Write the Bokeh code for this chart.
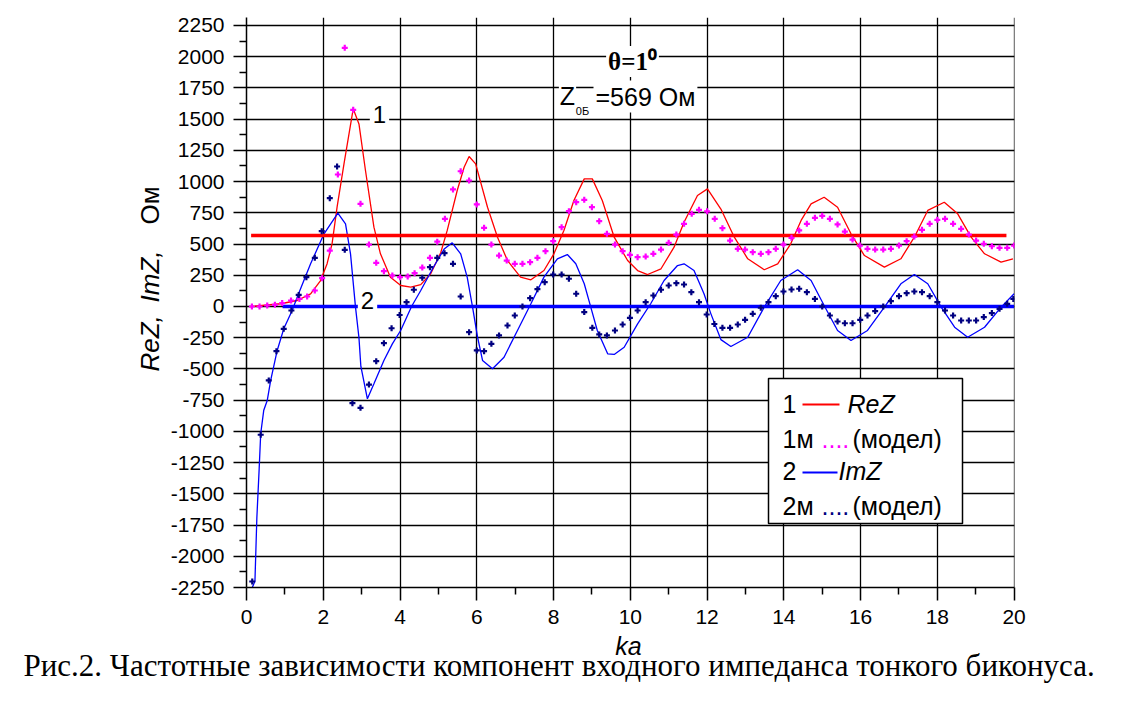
import math
from bokeh.plotting import figure
from bokeh.models import FixedTicker, Label
from bokeh.embed import file_html
from bokeh.resources import INLINE

# ---------------- data ----------------
re_x = [0.12, 0.89, 1.32, 1.67, 1.93, 2.10, 2.23, 2.36, 2.54, 2.78, 2.93, 3.10, 3.32, 3.49, 3.75,
        4.02, 4.28, 4.54, 4.80, 5.06, 5.23, 5.49, 5.67, 5.80, 5.97, 6.28, 6.54, 6.80, 7.14, 7.41,
        7.75, 8.01, 8.27, 8.53, 8.80, 9.01, 9.27, 9.58, 9.93, 10.19, 10.45, 10.80, 11.14, 11.40, 11.75,
        12.01, 12.36, 12.71, 13.06, 13.49, 13.84, 14.18, 14.45, 14.71, 15.05, 15.40, 15.75, 16.10, 16.62, 17.05,
        17.40, 17.75, 18.18, 18.53, 18.88, 19.23, 19.66, 19.97]
re_y = [0, 22, 48, 101, 208, 343, 503, 795, 1142, 1583, 1462, 1089, 635, 422, 235,
        168, 155, 175, 262, 430, 609, 929, 1115, 1201, 1142, 795, 555, 368, 235, 214,
        288, 422, 609, 849, 1022, 1022, 849, 555, 368, 288, 256, 302, 475, 675, 889,
        942, 780, 555, 382, 294, 342, 502, 689, 822, 875, 795, 582, 408, 315, 382,
        555, 769, 835, 742, 555, 422, 355, 382]

im_x = [0.15, 0.22, 0.27, 0.33, 0.37, 0.45, 0.54, 0.63, 0.80, 0.97, 1.19, 1.32, 1.67, 2.02, 2.38,
        2.58, 2.71, 2.84, 2.93, 2.98, 3.15, 3.32, 3.58, 3.80, 4.02, 4.30, 4.54, 4.88, 5.15, 5.36,
        5.58, 5.75, 5.89, 6.02, 6.15, 6.41, 6.71, 7.06, 7.41, 7.75, 8.10, 8.36, 8.58, 8.80, 8.97,
        9.14, 9.41, 9.58, 9.84, 10.19, 10.53, 10.88, 11.23, 11.40, 11.66, 11.92, 12.10, 12.36, 12.62, 13.06,
        13.49, 13.92, 14.36, 14.71, 15.05, 15.40, 15.75, 16.18, 16.62, 17.05, 17.40, 17.75, 18.10, 18.45, 18.79,
        19.23, 19.66, 20.0]
im_y = [-2250, -2200, -1690, -1300, -1019, -830, -753, -592, -352, -179, -32, 74, 342, 582, 747,
        662, 422, -5, -250, -480, -739, -619, -432, -299, -190, 0, 128, 320, 460, 510,
        422, 235, -5, -246, -432, -499, -406, -192, 22, 235, 382, 416, 342, 182, -5,
        -192, -379, -384, -326, -139, 22, 208, 328, 342, 288, 102, -59, -265, -320, -246,
        -5, 208, 294, 208, 8, -192, -272, -192, -5, 182, 256, 182, -5, -166, -246,
        -166, -5, 102]

re_model_x = [0.14, 0.34, 0.54, 0.74, 0.93, 1.16, 1.38, 1.58, 1.78, 1.97, 2.17, 2.38, 2.56, 2.78, 2.97,
              3.19, 3.38, 3.58, 3.80, 4.00, 4.20, 4.38, 4.58, 4.78, 4.97, 5.17, 5.38, 5.58, 5.80, 6.00,
              6.19, 6.38, 6.58, 6.78, 6.99, 7.19, 7.39, 7.58, 7.79, 7.99, 8.21, 8.40, 8.59, 8.80, 9.00,
              9.19, 9.39, 9.60, 9.80, 9.99, 10.19, 10.40, 10.60, 10.80, 11.00, 11.20, 11.40, 11.60, 11.79, 12.00,
              12.20, 12.40, 12.60, 12.80, 12.99, 13.19, 13.40, 13.60, 13.79, 13.99, 14.20, 14.40, 14.60, 14.81, 15.00,
              15.20, 15.40, 15.59, 15.79, 15.98, 16.18, 16.38, 16.59, 16.79, 17.00, 17.20, 17.40, 17.60, 17.80, 18.00,
              18.20, 18.41, 18.62, 18.82, 19.01, 19.21, 19.42, 19.62, 19.82, 20.0]
re_model_y = [0, 0, 8, 13, 27, 48, 61, 80, 128, 227, 448, 1057, 2071, 1575, 822,
              496, 350, 283, 248, 235, 240, 267, 312, 390, 519, 702, 937, 1083, 1009, 817,
              630, 496, 408, 368, 342, 342, 355, 390, 443, 523, 635, 763, 835, 854, 795,
              683, 582, 496, 443, 414, 395, 400, 422, 456, 510, 576, 662, 742, 774, 762,
              702, 627, 528, 462, 456, 435, 422, 435, 462, 496, 550, 609, 662, 710, 726,
              702, 657, 600, 536, 488, 462, 456, 456, 462, 488, 523, 560, 614, 662, 694,
              702, 662, 622, 576, 528, 502, 483, 470, 470, 488]

im_model_x = [0.15, 0.37, 0.58, 0.78, 0.97, 1.17, 1.36, 1.56, 1.78, 1.96, 2.17, 2.36, 2.56, 2.76, 2.97,
              3.19, 3.38, 3.58, 3.78, 3.99, 4.17, 4.36, 4.58, 4.78, 4.97, 5.16, 5.38, 5.58, 5.80, 6.00,
              6.19, 6.38, 6.58, 6.80, 6.99, 7.19, 7.39, 7.58, 7.77, 7.99, 8.21, 8.40, 8.59, 8.80, 9.01,
              9.19, 9.39, 9.60, 9.80, 9.99, 10.19, 10.40, 10.60, 10.80, 11.00, 11.20, 11.40, 11.59, 11.79, 11.99,
              12.19, 12.40, 12.60, 12.80, 12.99, 13.19, 13.40, 13.60, 13.79, 13.99, 14.20, 14.40, 14.60, 14.81, 15.00,
              15.20, 15.40, 15.59, 15.79, 15.99, 16.18, 16.38, 16.59, 16.79, 17.00, 17.20, 17.40, 17.60, 17.80, 18.00,
              18.20, 18.41, 18.62, 18.82, 19.01, 19.21, 19.42, 19.62, 19.82, 19.98]
im_model_y = [-2202, -1027, -592, -358, -179, -32, 93, 235, 390, 603, 867, 1121, 454, -774, -811,
              -625, -438, -294, -174, -68, 35, 134, 230, 315, 390, 427, 342, 80, -206, -352,
              -358, -299, -232, -152, -72, 0, 67, 139, 195, 256, 256, 222, 102, -45, -171,
              -224, -232, -192, -144, -91, -32, 35, 88, 134, 168, 187, 176, 115, 35, -64,
              -140, -171, -171, -144, -107, -59, -10, 35, 83, 120, 136, 142, 115, 61, 0,
              -72, -120, -134, -134, -107, -72, -37, 0, 43, 83, 107, 120, 115, 83, 35,
              -32, -72, -112, -112, -112, -85, -53, -19, 21, 61]

z0_value = 569
z0_span_x = [0.12, 19.8]
zero_span_x = [0.94, 20.0]

x_major = [0, 2, 4, 6, 8, 10, 12, 14, 16, 18, 20]
x_minor = [1, 3, 5, 7, 9, 11, 13, 15, 17, 19]
y_major = list(range(-2250, 2251, 250))
y_minor = [v + 125 for v in y_major[:-1]]

caption = "Рис.2. Частотные зависимости компонент входного импеданса тонкого биконуса."

# ---------------- geometry helpers (canvas pixels -> data, for annotations) ----------------
X0, X1 = 0.0, 20.01
Y0, Y1 = -2250.0, 2314.0
W, H = 1128, 686
FL, FT, FW, FH = 246, 17, 768, 570   # plot frame in canvas pixels


def dx(px):
    return X0 + (px - FL) * (X1 - X0) / FW


def dy(py):
    return Y1 - (py - FT) * (Y1 - Y0) / FH


SANS = "Liberation Sans"
SERIF = "Liberation Serif"

p = figure(width=W, height=H, x_range=(X0, X1), y_range=(Y0, Y1),
           output_backend="svg", toolbar_location=None,
           min_border_left=FL, min_border_right=W - FL - FW,
           min_border_top=FT, min_border_bottom=H - FT - FH)
p.outline_line_color = None
p.background_fill_color = "white"
p.border_fill_color = "white"

# axes
p.xaxis.ticker = FixedTicker(ticks=x_major, minor_ticks=x_minor)
p.yaxis.ticker = FixedTicker(ticks=y_major, minor_ticks=y_minor)
p.yaxis.major_label_overrides = {v: str(v) for v in y_major}
p.xaxis.major_label_overrides = {v: str(v) for v in x_major}
for ax in (p.xaxis, p.yaxis):
    ax.axis_line_color = "black"
    ax.axis_line_width = 1.5
    ax.major_tick_line_color = "black"
    ax.major_tick_line_width = 1.5
    ax.minor_tick_line_color = "black"
    ax.minor_tick_line_width = 1.5
    ax.major_tick_in = 0
    ax.major_tick_out = 13
    ax.minor_tick_in = 0
    ax.minor_tick_out = 7
    ax.major_label_text_font = SANS
    ax.major_label_text_font_size = "21px"
    ax.major_label_text_color = "black"
p.xaxis.major_label_standoff = 9
p.yaxis.major_label_standoff = 9

p.xgrid.ticker = FixedTicker(ticks=x_major)
p.ygrid.ticker = FixedTicker(ticks=y_major)
for g in (p.xgrid, p.ygrid):
    g.grid_line_color = "black"
    g.grid_line_width = 1.3

# curves
p.line(re_x, re_y, line_color="#FF0000", line_width=1.3)
p.line(im_x, im_y, line_color="#0000FF", line_width=1.3)
p.line(z0_span_x, [z0_value, z0_value], line_color="#FF0000", line_width=3.5)
p.line(zero_span_x, [0, 0], line_color="#0000FF", line_width=3.5)
p.scatter(re_model_x, re_model_y, marker="cross", size=6, line_width=2.2, line_color="#FF00FF")
p.scatter(im_model_x, im_model_y, marker="cross", size=6, line_width=2.2, line_color="#000080")

# legend box (drawn manually)
p.quad(left=[dx(768)], right=[dx(962)], top=[dy(378)], bottom=[dy(523)],
       fill_color="white", line_color="black", line_width=1.5)
p.line([dx(802), dx(839)], [dy(404)] * 2, line_color="#FF0000", line_width=2)
p.line([dx(802), dx(837)], [dy(472)] * 2, line_color="#0000FF", line_width=2)


def lab(x, y, text, size, font=SANS, style="normal", align="left", baseline="middle",
        color="black", bg=None, angle=0.0, pad=0, side=None):
    kw = dict(x=x, y=y, text=text, text_font=font, text_font_size=size, text_font_style=style,
              text_align=align, text_baseline=baseline, text_color=color, angle=angle)
    if bg is not None:
        kw["background_fill_color"] = bg
        kw["background_fill_alpha"] = 1.0
        kw["padding"] = pad
    if side is None:
        p.add_layout(Label(**kw))
    else:
        p.add_layout(Label(**kw), side)


LF = "25px"
rows = [403.5, 438.5, 470.5, 505]
lab(dx(782), dy(rows[0]), "1", LF)
lab(dx(847), dy(rows[0]), "ReZ", LF, style="italic")
lab(dx(782), dy(rows[1]), "1м", LF)
lab(dx(821), dy(rows[1]), "....", LF, color="#FF00FF")
lab(dx(852), dy(rows[1]), "(модел)", LF)
lab(dx(782), dy(rows[2]), "2", LF)
lab(dx(838), dy(rows[2]), "ImZ", LF, style="italic")
lab(dx(782), dy(rows[3]), "2м", LF)
lab(dx(821), dy(rows[3]), "....", LF, color="#000080")
lab(dx(852), dy(rows[3]), "(модел)", LF)

# curve numbers
lab(dx(379), dy(114), "1", "24px", align="center", bg="white", pad=3)
lab(dx(367), dy(300), "2", "24px", align="center", bg="white", pad=3)

# parameter annotation
lab(dx(632), dy(61), "θ=1⁰", "25px", font=SERIF, style="bold", align="center", bg="white", pad=2)
lab(dx(567), dy(95), "Z", "25px", align="center", bg="white", pad=1)
lab(dx(582), dy(110), "0Б", "11px", align="center")
lab(dx(593), dy(96), "=569 Ом", "25px", align="left", bg="white", pad=2)

# texts outside the frame live in side panels (so they are not clipped to the frame)
yl_x = dx(149)
lab(yl_x, dy(371), "ReZ,", "26px", style="italic", angle=math.pi / 2, side="left")
lab(yl_x, dy(302), "ImZ,", "26px", style="italic", angle=math.pi / 2, side="left")
lab(yl_x, dy(224), "Ом", "26px", angle=math.pi / 2, side="left")
lab(dx(628), dy(645), "ka", "25px", style="italic", align="center", side="left")
lab(dx(23), dy(665), caption, "31px", font=SERIF, baseline="middle", side="below")

open("out.html", "w").write(file_html(p, INLINE))
